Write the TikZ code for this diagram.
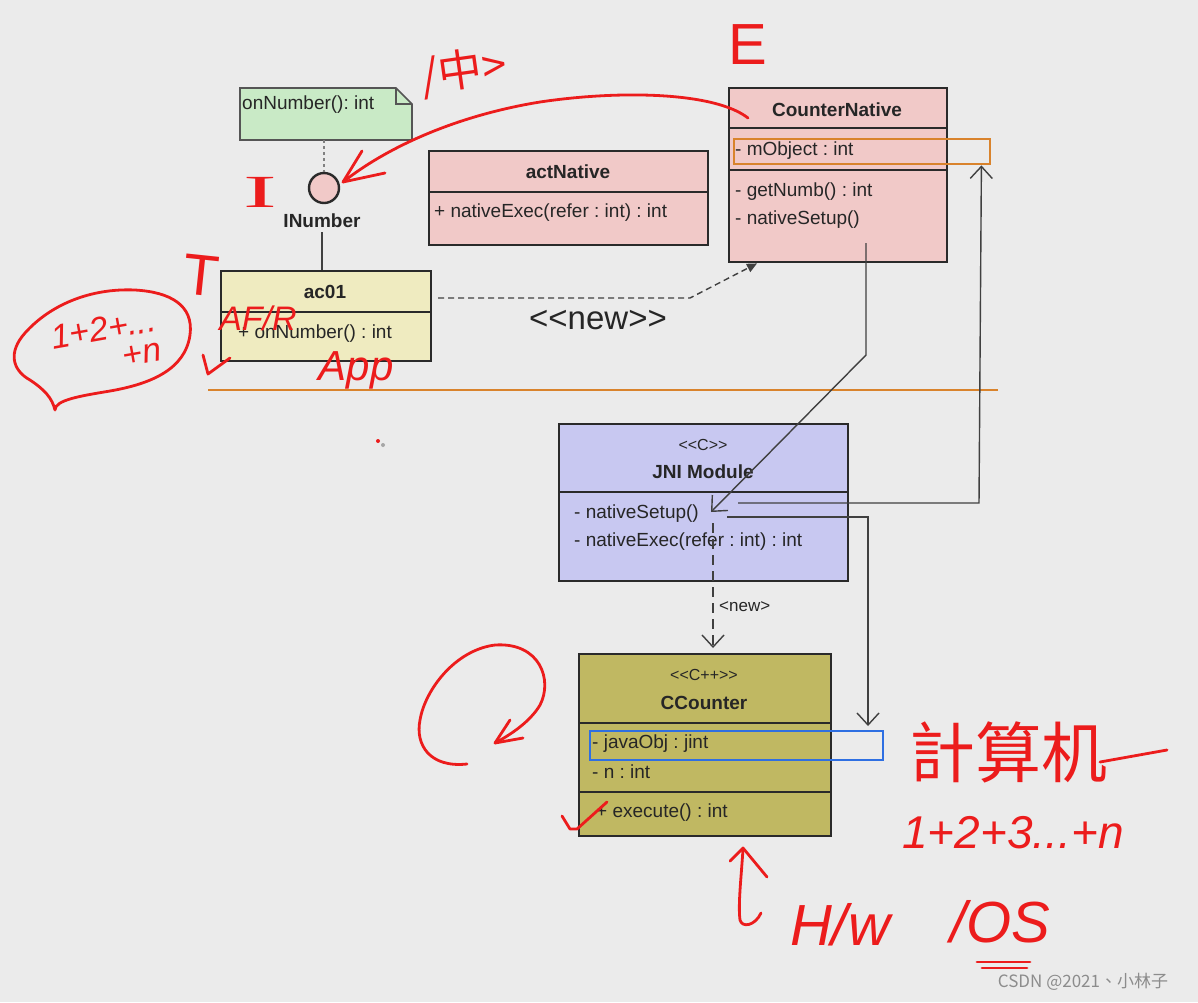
\documentclass[tikz,border=0pt]{standalone}
\usepackage{fontspec}
\setmainfont{Liberation Sans}
\newfontfamily\cjkfont{Noto Sans CJK TC}
\newfontfamily\handserif{Liberation Serif}
\usetikzlibrary{arrows.meta}
\definecolor{bgc}{HTML}{EBEBEB}
\definecolor{notec}{HTML}{C9EAC6}
\definecolor{pinkc}{HTML}{F1C9C8}
\definecolor{acc}{HTML}{EFEBC0}
\definecolor{jnic}{HTML}{C8C8F1}
\definecolor{olivec}{HTML}{C0B862}
\definecolor{orangec}{HTML}{D9832C}
\definecolor{bluec}{HTML}{2E6FE2}
\definecolor{redc}{HTML}{EC1C1C}
\definecolor{linec}{HTML}{2A2A2A}
\frenchspacing
\begin{document}
\begin{tikzpicture}[x=1pt,y=-1pt,
  umlbox/.style={draw=linec, line width=2.4pt, inner sep=0pt, anchor=north west},
  divider/.style={draw=linec, line width=1.8pt},
  txt/.style={font=\fontsize{19}{22}\selectfont, text=black!85, inner sep=0pt},
  mem/.style={txt, anchor=west},
  ttl/.style={txt, font=\fontsize{19}{22}\selectfont\bfseries},
  ster/.style={txt, font=\fontsize{16}{19}\selectfont},
  conn/.style={draw=black!75, line width=1.4pt},
  openarrow/.style={-{Straight Barb[length=12pt,width=22pt]}},
  hand/.style={draw=redc, line width=2.8pt, line cap=round, line join=round},
  handtxt/.style={text=redc, inner sep=0pt},
]
\fill[bgc] (0,0) rectangle (1198,1002);
\useasboundingbox (0,0) rectangle (1198,1002);

% separator line
\draw[orangec, line width=2.4pt] (208,390) -- (998,390);

% note
\node[inner sep=0pt, minimum width=172pt, minimum height=52pt, anchor=north west] (note) at (240,88) {};
\filldraw[fill=notec, draw=linec!80, line width=1.6pt] (240,88) -- (396,88) -- (412,104) -- (412,140) -- (240,140) -- cycle;
\draw[linec!80, line width=1.6pt] (396,88) -- (396,104) -- (412,104);
\node[mem] (notetext) at (242,105) {onNumber(): int};

% interface
\node[circle, draw=linec, line width=2.4pt, fill=pinkc, minimum size=30pt, inner sep=0pt] (inum) at (324,188) {};
\node[ttl] (inumlbl) at (322,221) {INumber};

% ac01
\node[umlbox, fill=acc, minimum width=210pt, minimum height=90pt] (ac01) at (220,270) {};
\draw[divider] (220,312) -- (430,312);
\node[ttl] (ac01t) at (325,292) {ac01};
\node[mem] (ac01m) at (238,334) {+ onNumber() : int};

% actNative
\node[umlbox, fill=pinkc, minimum width=279pt, minimum height=94pt] (act) at (428,150) {};
\draw[divider] (428,192) -- (707,192);
\node[ttl] (actt) at (568,172) {actNative};
\node[mem] (actm) at (434,213) {+ nativeExec(refer : int) : int};

% CounterNative
\node[umlbox, fill=pinkc, minimum width=218pt, minimum height=174pt] (cn) at (728,87) {};
\draw[divider] (728,128) -- (946,128);
\draw[divider] (728,170) -- (946,170);
\node[ttl] (cnt) at (837,110) {CounterNative};
\node[mem] (cna) at (735,151) {- mObject : int};
\node[mem] (cnb) at (735,192) {- getNumb() : int};
\node[mem] (cnc) at (735,220) {- nativeSetup()};
\node[draw=orangec, line width=2.4pt, minimum width=256pt, minimum height=25pt, inner sep=0pt, anchor=north west] (orng) at (733,138) {};

% JNI Module
\node[umlbox, fill=jnic, minimum width=289pt, minimum height=157pt] (jni) at (558,423) {};
\draw[divider] (558,492) -- (847,492);
\node[ster] (jnis) at (703,445) {<{}<C>{}>};
\node[ttl] (jnit) at (703,472) {JNI Module};
\node[mem] (jnia) at (574,514) {- nativeSetup()};
\node[mem] (jnib) at (574,542) {- nativeExec(refer : int) : int};

% CCounter
\node[umlbox, fill=olivec, minimum width=252pt, minimum height=182pt] (cc) at (578,653) {};
\draw[divider] (578,723) -- (830,723);
\draw[divider] (578,792) -- (830,792);
\node[ster] (ccs) at (704,675) {<{}<C++>{}>};
\node[ttl] (cct) at (704,703) {CCounter};
\node[mem] (cca) at (592,744) {- javaObj : jint};
\node[mem] (ccb) at (592,772) {- n : int};
\node[mem] (cce) at (596,813) {+ execute() : int};
\node[draw=bluec, line width=2.4pt, minimum width=293pt, minimum height=29pt, inner sep=0pt, anchor=north west] (blu) at (589,730) {};

% connectors
\draw[conn, dashed, draw=gray] (inum.north |- note.south) -- (inum.north);
\draw[conn] ([yshift=-4pt]inumlbl.south) -- (inumlbl.south |- ac01.north);

\coordinate (ns) at (438,298);
\coordinate (nb) at (690,298);
\draw[conn, dash pattern=on 6pt off 4pt, -{Triangle[length=10pt,width=9pt]}] (ns) -- (nb) -- ([xshift=29pt]cn.south west);
\node[txt, font=\fontsize{33}{38}\selectfont] (newlbl) at (598,320) {<{}<new>{}>};

\coordinate (c1s) at (866,243);
\coordinate (c1b) at (866,355);
\coordinate (c1e) at (711,512);
\draw[conn, openarrow] (c1s) -- (c1b) -- (c1e);

\coordinate (j2s) at (738,503);
\coordinate (j2b) at (979,503);
\draw[conn, openarrow] (j2s) -- (j2b) -- ([xshift=-10pt]orng.south east);

\coordinate (j3s) at (727,517);
\coordinate (j3b) at (868,517);
\draw[conn, openarrow, shorten >=4pt] (j3s) -- (j3b) -- (j3b |- blu.north);

\coordinate (j4s) at (713,523);
\draw[conn, dash pattern=on 10pt off 6pt, openarrow, shorten >=5pt] (j4s) -- (j4s |- cc.north);
\node[txt, font=\fontsize{17}{20}\selectfont, anchor=west] (newsm) at (719,607) {<new>};

% red annotations
\draw[hand] (748,118) .. controls (715,92) and (620,90) .. (540,102) .. controls (460,115) and (390,145) .. (343,182);
\draw[hand] (362,151) -- (343,182) -- (385,173);
\node[handtxt, font=\cjkfont\fontsize{44}{46}\selectfont, rotate=8] (zhong) at (464,72) {/中>};
\node[handtxt, font=\fontsize{58}{60}\selectfont] (elbl) at (748,45) {E};
\node[handtxt, font=\handserif\fontsize{46}{48}\selectfont, xscale=2.2] (ilbl) at (260,192) {I};
\node[handtxt, font=\fontsize{58}{60}\selectfont, rotate=-6] (tlbl) at (201,276) {T};
\draw[hand] (203,355) -- (208,374) -- (230,358);

\draw[hand] (55,410) .. controls (55,400) and (80,396) .. (110,391) .. controls (150,384) and (185,370) .. (190,335) .. controls (194,305) and (170,292) .. (135,290) .. controls (90,288) and (50,305) .. (25,333) .. controls (8,352) and (12,370) .. (30,380) .. controls (45,390) and (52,398) .. (55,410);
\node[handtxt, font=\itshape\fontsize{34}{30}\selectfont, rotate=10, align=right] (sum1) at (106,343) {1+2+...\\+n};

\node[handtxt, font=\itshape\fontsize{34}{36}\selectfont] (aflbl) at (258,318) {AF/R};
\node[handtxt, font=\itshape\fontsize{42}{44}\selectfont] (applbl) at (356,370) {App};
\fill[redc] (378,441) circle (2pt);
\fill[gray!70] (383,445) circle (2pt);

\draw[hand] (467,764) .. controls (430,768) and (415,745) .. (420,720) .. controls (425,690) and (455,650) .. (495,645) .. controls (540,642) and (553,680) .. (540,705) .. controls (530,722) and (510,735) .. (495,743);
\draw[hand] (510,720) -- (495,743) -- (523,738);

\draw[hand] (562,816) -- (570,829) -- (577,829) -- (607,802);

\draw[hand] (730,861) -- (743,848) -- (767,877);
\draw[hand] (743,849) .. controls (741,880) and (738,905) .. (740,920) .. controls (742,928) and (755,926) .. (761,913);

\node[handtxt, font=\cjkfont\fontsize{66}{70}\selectfont] (jsj) at (1008,752) {計算机};
\draw[hand] (1100,762) -- (1167,750);
\node[handtxt, font=\itshape\fontsize{46}{48}\selectfont] (sum3) at (1013,833) {1+2+3...+n};
\node[handtxt, font=\itshape\fontsize{58}{60}\selectfont] (hw) at (840,925) {H/w};
\node[handtxt, font=\itshape\fontsize{58}{60}\selectfont] (os) at (1000,922) {/OS};
\draw[hand] (977,962) -- (1030,962);
\draw[hand] (982,968) -- (1027,968);

\node[txt, font=\cjkfont\fontsize{17}{19}\selectfont, text=black!45] (wm) at (1083,982) {CSDN @2021、小林子};
\end{tikzpicture}
\end{document}
